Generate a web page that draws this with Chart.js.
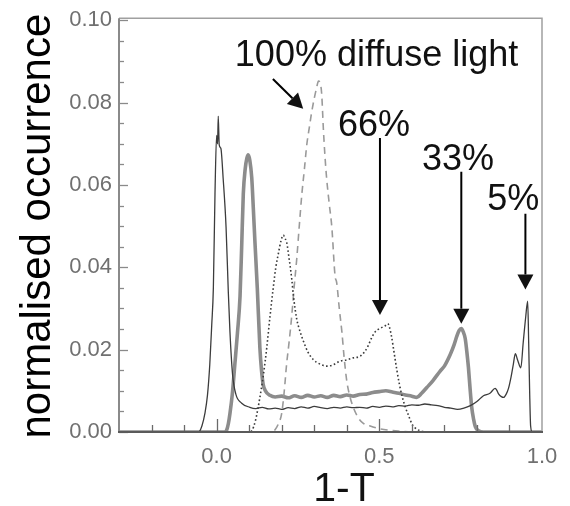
<!DOCTYPE html>
<html>
<head>
<meta charset="utf-8">
<script src="https://cdn.jsdelivr.net/npm/chart.js@4"></script>
<style>
  html, body { margin: 0; padding: 0; background: #fff; }
  canvas { display: block; }
</style>
</head>
<body>
<canvas id="chart" width="570" height="506"></canvas>
<script>
// 1-T values and occurrences for each light condition
const x5 = [-0.30, -0.10, -0.055, -0.045, -0.036, -0.028, -0.021, -0.015, -0.010, -0.005, 0.000, 0.003, 0.005, 0.008, 0.013, 0.020, 0.029, 0.036, 0.041, 0.049, 0.059, 0.077, 0.102,
  0.12, 0.14, 0.16, 0.18, 0.20, 0.22, 0.24, 0.26, 0.28, 0.30, 0.32, 0.34, 0.36, 0.38, 0.40, 0.42, 0.44, 0.46, 0.48, 0.50, 0.52, 0.54, 0.56, 0.58, 0.60, 0.62, 0.64, 0.66, 0.68, 0.70, 0.72, 0.74, 0.76, 0.78, 0.80, 0.82, 0.84,
  0.856, 0.862, 0.867, 0.875, 0.882, 0.890, 0.897, 0.905, 0.912, 0.918, 0.925, 0.935, 0.942, 0.950, 0.956, 0.959, 0.962, 0.965, 0.970, 1.00];
const y5 = [0, 0, 0, 0.0015, 0.0045, 0.0090, 0.0164, 0.0260, 0.0350, 0.0578, 0.0720, 0.0700, 0.0767, 0.0697, 0.0689, 0.0617, 0.0498, 0.0339, 0.0243, 0.0140, 0.0092, 0.0070, 0.0060,
  0.0057, 0.0060, 0.0056, 0.0058, 0.0055, 0.0059, 0.0057, 0.0061, 0.0058, 0.0062, 0.0059, 0.0057, 0.0060, 0.0058, 0.0061, 0.0059, 0.0060, 0.0058, 0.0062, 0.0060, 0.0063, 0.0061, 0.0064, 0.0063, 0.0066, 0.0065, 0.0068, 0.0066, 0.0064, 0.0060, 0.0058, 0.0055, 0.0058, 0.0064, 0.0074, 0.0088, 0.0094,
  0.0106, 0.0100, 0.0092, 0.0086, 0.0084, 0.0092, 0.0106, 0.0134, 0.0165, 0.0190, 0.0175, 0.0156, 0.0215, 0.0280, 0.0318, 0.0220, 0.0100, 0.0015, 0, 0];

const x33 = [-0.30, 0.025, 0.031, 0.036, 0.041, 0.048, 0.056, 0.064, 0.072, 0.077, 0.082, 0.088, 0.093, 0.097, 0.102, 0.108, 0.113, 0.118, 0.125, 0.133, 0.138, 0.143, 0.150, 0.164, 0.18,
  0.20, 0.22, 0.24, 0.26, 0.28, 0.30, 0.32, 0.34, 0.36, 0.38, 0.40, 0.42, 0.44, 0.46, 0.48, 0.50, 0.52, 0.54, 0.56, 0.58, 0.60, 0.615, 0.63, 0.646, 0.665, 0.687, 0.70, 0.718, 0.730, 0.738, 0.745, 0.752, 0.758, 0.764, 0.769, 0.774, 0.779, 0.784, 0.790, 0.795, 0.805, 0.82, 1.00];
const y33 = [0, 0, 0.0005, 0.0020, 0.0045, 0.0090, 0.0164, 0.0240, 0.0330, 0.0450, 0.0578, 0.0640, 0.0665, 0.0673, 0.0660, 0.0617, 0.0540, 0.0458, 0.0350, 0.0204, 0.0150, 0.0116, 0.0100, 0.0089, 0.0085,
  0.0087, 0.0083, 0.0088, 0.0084, 0.0089, 0.0085, 0.0088, 0.0084, 0.0089, 0.0086, 0.0090, 0.0087, 0.0091, 0.0092, 0.0096, 0.0098, 0.0100, 0.0097, 0.0094, 0.0090, 0.0087, 0.0084, 0.0094, 0.0108, 0.0125, 0.0148, 0.0160, 0.0188, 0.0212, 0.0232, 0.0246, 0.0251, 0.0243, 0.0227, 0.0195, 0.0156, 0.0105, 0.0060, 0.0030, 0.0013, 0.0003, 0, 0];

const x66 = [-0.30, 0.100, 0.108, 0.120, 0.133, 0.144, 0.154, 0.164, 0.174, 0.182, 0.190, 0.198, 0.205, 0.210, 0.215, 0.223, 0.231, 0.236, 0.246, 0.256, 0.267, 0.280, 0.297, 0.315, 0.338, 0.355, 0.379, 0.400, 0.420, 0.441, 0.456, 0.466, 0.476, 0.487, 0.498, 0.508, 0.518, 0.526, 0.531,
  0.538, 0.546, 0.554, 0.562, 0.569, 0.580, 0.590, 0.600, 0.610, 0.630, 0.660, 1.00];
const y66 = [0, 0, 0.0003, 0.0030, 0.0084, 0.0140, 0.0204, 0.0280, 0.0350, 0.0400, 0.0434, 0.0465, 0.0478, 0.0470, 0.0462, 0.0420, 0.0371, 0.0331, 0.0275, 0.0245, 0.0220, 0.0195, 0.0176, 0.0166, 0.0160, 0.0162, 0.0172, 0.0175, 0.0180, 0.0184, 0.0196, 0.0210, 0.0228, 0.0243, 0.0250, 0.0254, 0.0258, 0.0263, 0.0255,
  0.0230, 0.0190, 0.0150, 0.0115, 0.0090, 0.0060, 0.0040, 0.0020, 0.0010, 0.0002, 0, 0];

const x100 = [-0.30, 0.170, 0.179, 0.190, 0.200, 0.208, 0.215, 0.223, 0.231, 0.238, 0.246, 0.254, 0.262, 0.270, 0.277, 0.285, 0.292, 0.300, 0.307, 0.313, 0.318, 0.323, 0.328, 0.333, 0.338, 0.346, 0.354, 0.364, 0.369, 0.377, 0.385, 0.392, 0.400, 0.410, 0.420, 0.435, 0.451, 0.470, 0.500, 0.550, 0.600, 1.00];
const y100 = [0, 0, 0.0005, 0.0020, 0.0045, 0.0100, 0.0164, 0.0220, 0.0283, 0.0350, 0.0418, 0.0500, 0.0578, 0.0640, 0.0697, 0.0740, 0.0776, 0.0810, 0.0835, 0.0852, 0.0848, 0.0820, 0.0737, 0.0670, 0.0617, 0.0555, 0.0498, 0.0379, 0.0363, 0.0300, 0.0243, 0.0180, 0.0124, 0.0085, 0.0060, 0.0035, 0.0021, 0.0015, 0.0008, 0.0003, 0, 0];

// axis ticks
const xTickLabels = [0.0, 0.5, 1.0];
const yTickLabels = [0.00, 0.02, 0.04, 0.06, 0.08, 0.10];

// labels and arrows in data units
const notes = [
  { text: '100% diffuse light', x: 0.056, y: 0.0888, align: 'left' },
  { text: '66%', x: 0.484, y: 0.0718, align: 'center' },
  { text: '33%', x: 0.742, y: 0.0637, align: 'center' },
  { text: '5%',  x: 0.912, y: 0.0539, align: 'center' }
];
const arrows = [
  { from: [0.173, 0.0857], to: [0.266, 0.0785] },
  { from: [0.502, 0.0714], to: [0.502, 0.0284] },
  { from: [0.752, 0.0632], to: [0.752, 0.0263] },
  { from: [0.949, 0.0530], to: [0.949, 0.0346] }
];

const pts = (xs, ys) => xs.map((x, i) => ({ x, y: ys[i] }));
const FONT = 'Arial, "Liberation Sans", Helvetica, sans-serif';

// frame, inward tick marks, annotations and x title
const decor = {
  id: 'decor',
  afterDatasetsDraw(chart) {
    const { ctx, chartArea: a, scales: { x, y } } = chart;
    ctx.save();
    ctx.lineCap = 'butt';

    // top / right
    ctx.strokeStyle = '#a0a0a0';
    ctx.lineWidth = 1.5;
    ctx.beginPath();
    ctx.moveTo(a.left, a.top - 2);
    ctx.lineTo(a.right, a.top - 2);
    ctx.lineTo(a.right, a.bottom);
    ctx.stroke();
    // left
    ctx.strokeStyle = '#8a8a8a';
    ctx.lineWidth = 2;
    ctx.beginPath();
    ctx.moveTo(a.left, a.top - 2);
    ctx.lineTo(a.left, a.bottom);
    ctx.stroke();

    // y ticks every 0.005
    ctx.strokeStyle = '#8a8a8a';
    ctx.lineWidth = 1.3;
    for (let i = 0; i <= 20; i++) {
      const py = Math.round(y.getPixelForValue(i * 0.005)) + 0.5;
      const len = i % 4 === 0 ? 9 : 5;
      ctx.beginPath();
      ctx.moveTo(a.left, py);
      ctx.lineTo(a.left + len, py);
      ctx.stroke();
    }
    // x ticks every 0.1
    ctx.strokeStyle = '#6a6a6a';
    for (let i = -2; i <= 9; i++) {
      const px = Math.round(x.getPixelForValue(i * 0.1)) + 0.5;
      const len = i % 5 === 0 ? 13 : 7;
      ctx.beginPath();
      ctx.moveTo(px, a.bottom);
      ctx.lineTo(px, a.bottom - len);
      ctx.stroke();
    }
    // bottom axis
    ctx.strokeStyle = '#5a5a5a';
    ctx.lineWidth = 2.2;
    ctx.beginPath();
    ctx.moveTo(a.left - 1, a.bottom);
    ctx.lineTo(a.right + 1, a.bottom);
    ctx.stroke();

    // annotations
    ctx.fillStyle = '#111';
    ctx.font = '36px ' + FONT;
    ctx.textBaseline = 'alphabetic';
    notes.forEach(n => {
      ctx.textAlign = n.align;
      ctx.fillText(n.text, x.getPixelForValue(n.x), y.getPixelForValue(n.y));
    });
    ctx.strokeStyle = '#000';
    ctx.lineWidth = 2;
    arrows.forEach(ar => {
      const x0 = x.getPixelForValue(ar.from[0]), y0 = y.getPixelForValue(ar.from[1]);
      const x1 = x.getPixelForValue(ar.to[0]), y1 = y.getPixelForValue(ar.to[1]);
      const ang = Math.atan2(y1 - y0, x1 - x0);
      const head = 15, half = 8;
      const bx = x1 - head * Math.cos(ang), by = y1 - head * Math.sin(ang);
      ctx.beginPath();
      ctx.moveTo(x0, y0);
      ctx.lineTo(bx, by);
      ctx.stroke();
      ctx.beginPath();
      ctx.moveTo(x1, y1);
      ctx.lineTo(bx + half * Math.sin(ang), by - half * Math.cos(ang));
      ctx.lineTo(bx - half * Math.sin(ang), by + half * Math.cos(ang));
      ctx.closePath();
      ctx.fill();
    });

    // x title
    ctx.font = '41px ' + FONT;
    ctx.textAlign = 'center';
    ctx.fillText('1-T', 344, 501);
    ctx.restore();
  }
};

const tickFont = { family: FONT, size: 22 };

new Chart(document.getElementById('chart'), {
  type: 'line',
  data: {
    datasets: [
      { label: '5%', data: pts(x5, y5), borderColor: '#3c3c3c', borderWidth: 1.3 },
      { label: '66%', data: pts(x66, y66), borderColor: '#3a3a3a', borderWidth: 1.6, borderDash: [1.6, 2.4] },
      { label: '100%', data: pts(x100, y100), borderColor: '#9a9a9a', borderWidth: 1.6, borderDash: [7, 5] },
      { label: '33%', data: pts(x33, y33), borderColor: '#8c8c8c', borderWidth: 3.6 }
    ].map(d => Object.assign(d, { pointRadius: 0, fill: false, cubicInterpolationMode: 'monotone' }))
  },
  options: {
    responsive: false,
    animation: false,
    layout: { padding: { top: 13, right: 28, left: 0, bottom: 0 } },
    plugins: { legend: { display: false }, tooltip: { enabled: false } },
    scales: {
      x: {
        type: 'linear',
        min: -0.3,
        max: 1.0,
        grid: { display: false, drawTicks: false },
        border: { display: false },
        afterBuildTicks: s => { s.ticks = xTickLabels.map(v => ({ value: v })); },
        ticks: { callback: v => v.toFixed(1), padding: 12, font: tickFont, color: '#707070', maxRotation: 0 },
        afterFit: s => { s.height = 74; }
      },
      y: {
        min: 0,
        max: 0.10,
        grid: { display: false, drawTicks: false },
        border: { display: false },
        afterBuildTicks: s => { s.ticks = yTickLabels.map(v => ({ value: v })); },
        ticks: { callback: v => v.toFixed(2), padding: 7, font: tickFont, color: '#707070' },
        title: { display: true, text: 'normalised occurrence', color: '#000', font: { family: FONT, size: 42 }, padding: { top: 13, bottom: 0 } },
        afterFit: s => { s.width = 119; }
      }
    }
  },
  plugins: [decor]
});
</script>
</body>
</html>
